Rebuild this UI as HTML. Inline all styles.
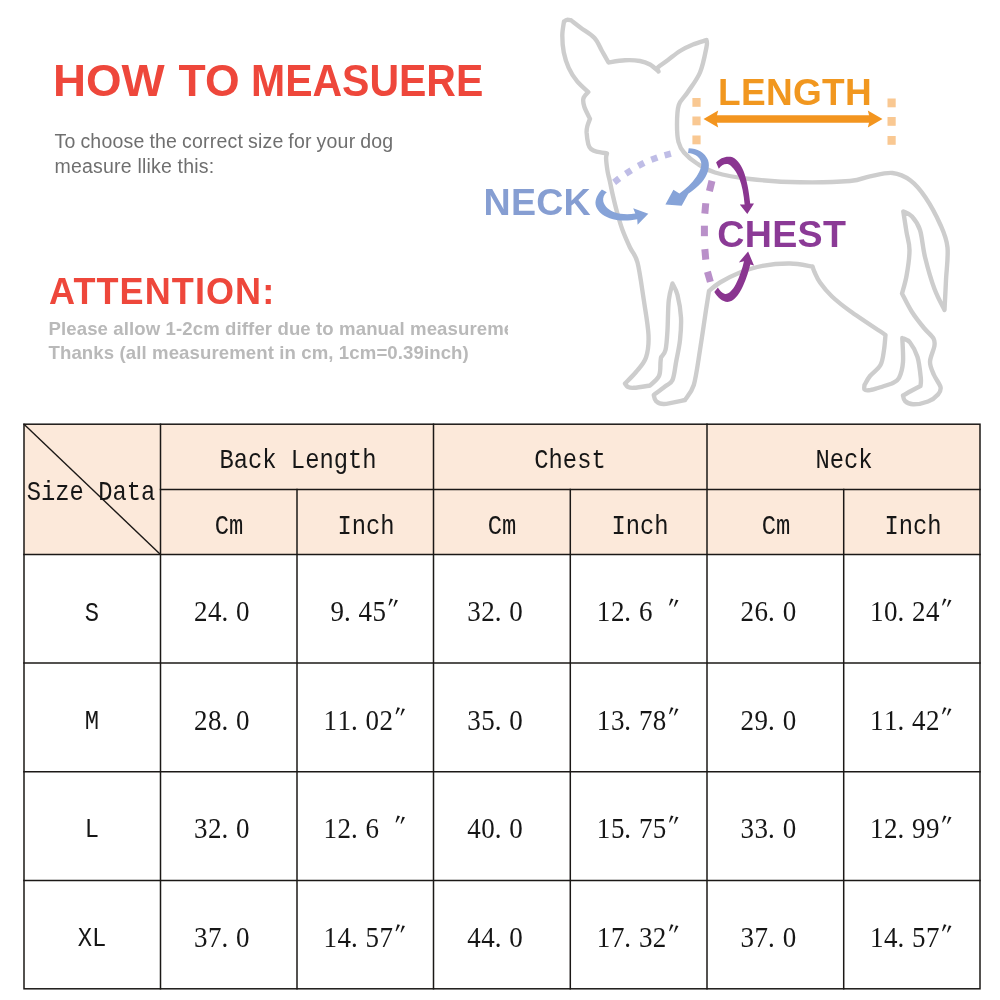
<!DOCTYPE html>
<html lang="en">
<head>
<meta charset="utf-8">
<title>How to measure - size chart</title>
<style>
html,body{margin:0;padding:0;background:#fff;}
body{width:1000px;height:1000px;position:relative;overflow:hidden;font-family:"Liberation Sans",sans-serif;}
#gfx{position:absolute;left:0;top:0;width:1000px;height:1000px;}
.t{position:absolute;white-space:nowrap;line-height:1;margin:0;}
.h1{top:58.5px;font-size:44.5px;font-weight:bold;color:#ee473b;transform-origin:0 0;}
.sub{left:54.5px;font-size:19.5px;color:#6f6f6f;letter-spacing:0.2px;}
.att{left:49px;top:274.2px;font-size:36px;font-weight:bold;color:#ee473b;letter-spacing:1.1px;}
.note{left:48.5px;font-size:18.6px;font-weight:bold;color:#b9b9b9;letter-spacing:0.1px;}
.c{position:absolute;white-space:nowrap;color:#161616;transform:translateX(-50%);}
.m{font-family:"Liberation Mono",monospace;font-size:28.5px;line-height:28.5px;transform:translateX(-50%) scaleX(0.835);}
</style>
</head>
<body>
<svg id="gfx" viewBox="0 0 1000 1000" width="1000" height="1000">
  <!--DOG-->
  <path d="M571.0,20.3 C570.3,20.2 568.2,19.6 567.0,19.8 C565.8,20.0 564.5,21.2 564.0,21.5 C563.7,23.8 562.3,30.3 562.3,35.5 C562.3,40.7 562.7,47.1 563.8,52.5 C564.9,57.9 566.5,63.0 568.7,67.8 C570.9,72.6 573.9,77.4 577.2,81.4 C580.5,85.4 586.4,90.2 588.3,92.0 C587.5,93.1 584.0,95.9 583.4,98.4 C582.8,100.9 583.3,103.6 584.4,107.0 C585.5,110.4 589.1,116.8 590.0,118.8 C589.6,120.0 588.0,123.7 587.4,126.0 C586.8,128.3 586.5,129.3 586.6,132.4 C586.8,135.5 587.6,141.5 588.3,144.3 C589.0,147.1 589.6,147.8 591.0,149.0 C592.4,150.2 593.8,150.9 596.5,151.6 C599.2,152.3 605.2,153.0 607.0,153.3 C606.9,154.2 606.0,155.5 606.1,158.5 C606.2,161.5 607.0,167.8 607.6,171.5 C608.2,175.2 608.9,176.9 609.8,181.0 C610.7,185.1 611.8,190.8 613.0,196.0 C614.2,201.2 615.4,206.3 617.0,212.0 C618.6,217.7 620.3,224.1 622.5,230.0 C624.7,235.9 627.5,242.1 630.0,247.5 C632.5,252.9 635.2,253.8 637.5,262.5 C639.8,271.2 641.9,287.9 643.8,300.0 C645.6,312.1 648.1,325.4 648.5,335.0 C648.9,344.6 648.1,351.3 646.0,357.5 C643.9,363.7 639.5,367.7 636.0,372.0 C632.5,376.3 626.8,381.6 625.0,383.5 C625.5,384.1 626.5,386.3 628.0,387.0 C629.5,387.7 630.3,388.1 634.0,387.8 C637.7,387.6 647.3,385.9 650.0,385.5 C651.5,383.9 657.2,379.9 659.0,376.0 C660.8,372.1 660.2,365.1 660.5,362.0 C660.8,358.9 660.9,358.2 661.0,357.5 C661.8,356.2 664.4,354.6 665.5,350.0 C666.6,345.4 667.0,338.3 667.5,330.0 C668.0,321.7 667.9,307.8 668.8,300.0 C669.6,292.2 671.9,286.2 672.5,283.5 C673.3,285.4 676.1,289.3 677.5,295.0 C678.9,300.7 680.6,310.0 681.0,317.5 C681.4,325.0 680.8,332.5 680.0,340.0 C679.2,347.5 677.2,355.8 676.0,362.5 C674.8,369.2 674.3,376.0 672.5,380.0 C670.7,384.0 668.1,384.0 665.0,386.5 C661.9,389.0 655.6,393.6 653.8,395.0 C654.1,396.0 654.3,399.5 656.0,401.0 C657.7,402.5 659.2,404.2 664.0,404.0 C668.8,403.8 681.5,400.7 685.0,400.0 C686.5,397.5 691.2,393.3 693.8,385.0 C696.2,376.7 698.0,362.5 700.0,350.0 C702.0,337.5 704.5,319.8 706.0,310.0 C707.5,300.2 708.5,294.2 709.0,291.0 C710.8,289.6 714.8,285.6 720.0,282.5 C725.2,279.4 732.9,275.3 740.0,272.5 C747.1,269.7 754.2,267.3 762.5,265.8 C770.8,264.3 781.7,263.4 790.0,263.5 C798.3,263.6 808.8,266.0 812.5,266.5 C812.8,267.4 813.2,269.3 814.5,272.0 C815.8,274.7 817.1,278.4 820.0,282.5 C822.9,286.6 827.0,291.8 832.0,296.5 C837.0,301.2 841.1,304.6 850.0,311.0 C858.9,317.4 879.6,331.0 885.5,335.0 C885.2,337.5 884.8,345.0 884.0,350.0 C883.2,355.0 882.8,360.7 880.5,365.0 C878.2,369.3 872.7,372.7 870.0,376.0 C867.3,379.3 865.4,383.5 864.5,385.0 C864.5,385.8 863.8,388.6 864.5,389.5 C865.2,390.4 866.8,390.6 869.0,390.3 C871.2,390.1 874.2,389.1 878.0,388.0 C881.8,386.9 889.7,384.2 892.0,383.5 C893.2,382.6 897.2,381.6 899.0,378.0 C900.8,374.4 902.5,368.7 903.0,362.0 C903.5,355.3 902.4,342.0 902.3,338.0 C903.6,338.8 907.5,339.3 910.0,342.5 C912.5,345.7 915.7,351.1 917.5,357.0 C919.3,362.9 920.3,373.2 920.8,378.0 C921.3,382.8 920.5,384.7 920.5,386.0 C918.9,386.8 913.9,389.4 911.0,391.0 C908.1,392.6 904.3,394.8 903.0,395.5 C903.3,396.4 903.3,399.5 905.0,401.0 C906.7,402.5 909.2,404.2 913.0,404.3 C916.8,404.4 923.8,403.1 928.0,401.5 C932.2,399.9 935.9,396.9 938.0,394.5 C940.1,392.1 941.2,390.2 940.5,387.0 C939.8,383.8 935.8,379.2 934.0,375.0 C932.2,370.8 930.0,366.8 930.0,362.0 C930.0,357.2 933.7,350.4 934.3,346.5 C934.9,342.6 935.2,341.6 933.5,338.5 C931.8,335.4 927.6,332.4 924.0,328.0 C920.4,323.6 915.7,317.8 912.0,312.0 C908.3,306.2 903.7,296.6 902.0,293.5 C902.8,290.6 905.2,283.2 906.5,276.0 C907.8,268.8 909.5,257.3 909.5,250.0 C909.5,242.7 907.5,238.4 906.5,232.0 C905.5,225.6 903.8,214.9 903.3,211.5 C904.8,212.3 909.2,213.4 912.0,216.5 C914.8,219.6 917.8,223.2 920.0,230.0 C922.2,236.8 922.6,247.2 925.0,257.0 C927.4,266.8 931.2,280.2 934.5,289.0 C937.8,297.8 942.8,306.5 944.5,310.0 C944.8,305.0 945.5,290.4 946.0,280.0 C946.5,269.6 948.4,256.7 947.5,247.5 C946.6,238.3 944.2,233.3 940.5,225.0 C936.8,216.7 930.5,204.9 925.5,197.5 C920.5,190.1 916.0,184.6 910.5,180.5 C905.0,176.4 899.2,173.7 892.5,173.0 C885.8,172.3 877.1,175.0 870.0,176.3 C862.9,177.6 861.7,180.0 850.0,181.0 C838.3,182.0 816.7,182.6 800.0,182.3 C783.3,182.0 764.2,180.6 750.0,179.0 C735.8,177.4 723.8,175.1 715.0,172.5 C706.2,169.9 702.2,166.8 697.0,163.5 C691.8,160.2 687.1,156.1 684.0,152.5 C680.9,148.9 679.7,146.6 678.5,142.0 C677.3,137.4 677.0,131.2 677.0,125.0 C677.0,118.8 677.0,110.4 678.8,105.0 C680.5,99.6 684.0,97.9 687.5,92.5 C691.0,87.1 696.8,80.1 700.0,72.5 C703.2,64.9 705.4,52.4 706.5,47.0 C707.6,41.6 706.5,41.2 706.5,40.0 C704.2,40.8 697.4,42.7 693.0,44.5 C688.6,46.3 684.2,48.4 680.0,51.0 C675.8,53.6 671.5,57.4 668.0,60.0 C664.5,62.6 660.5,65.4 659.0,66.5 C658.7,66.8 657.4,67.7 657.3,68.5 C657.2,69.3 658.3,71.0 658.5,71.5 C657.1,70.3 653.1,66.2 650.0,64.5 C646.9,62.8 644.2,61.7 640.0,61.0 C635.8,60.3 630.2,60.0 625.0,60.3 C619.8,60.5 611.2,62.1 608.5,62.5 C607.4,60.6 604.3,55.1 602.0,51.0 C599.7,46.9 598.0,41.8 594.5,38.0 C591.0,34.2 584.9,30.9 581.0,28.0 C577.1,25.1 572.7,21.6 571.0,20.3Z" fill="none" stroke="#cdcdcd" stroke-width="4.4" stroke-linejoin="round" stroke-linecap="round"/>
  <rect x="692.4" y="98" width="8.2" height="8.8" fill="#f9c892"/>
  <rect x="887.5" y="98.5" width="8.2" height="8.8" fill="#f9c892"/>
  <rect x="692.4" y="116.5" width="8.2" height="8.8" fill="#f9c892"/>
  <rect x="887.5" y="117.0" width="8.2" height="8.8" fill="#f9c892"/>
  <rect x="692.4" y="135.5" width="8.2" height="8.8" fill="#f9c892"/>
  <rect x="887.5" y="136.0" width="8.2" height="8.8" fill="#f9c892"/>
  <line x1="714" y1="119" x2="872" y2="119" stroke="#f3951f" stroke-width="7.5"/>
  <path d="M703.5,119 L718.2,110.5 L716,119 L718.2,127.5Z" fill="#f3951f"/>
  <path d="M882.5,119 L867.8,110.5 L870,119 L867.8,127.5Z" fill="#f3951f"/>
  <rect x="613.4" y="177.2" width="6.5" height="6.5" fill="#bfbde6" transform="rotate(-38 616.6 180.4)"/>
  <rect x="625.2" y="168.8" width="6.5" height="6.5" fill="#bfbde6" transform="rotate(-33 628.5 172.0)"/>
  <rect x="637.9" y="161.1" width="6.5" height="6.5" fill="#bfbde6" transform="rotate(-27 641.1 164.3)"/>
  <rect x="651.1" y="155.4" width="6.5" height="6.5" fill="#bfbde6" transform="rotate(-20 654.4 158.7)"/>
  <rect x="664.5" y="151.2" width="6.5" height="6.5" fill="#bfbde6" transform="rotate(-15 667.7 154.5)"/>
  <rect x="707.2" y="180.7" width="7" height="10.5" fill="#b990c9" transform="rotate(14 710.7 185.9)"/>
  <rect x="701.8" y="203.2" width="7" height="10.5" fill="#b990c9" transform="rotate(5 705.3 208.4)"/>
  <rect x="700.9" y="225.7" width="7" height="10.5" fill="#b990c9" transform="rotate(0 704.4 230.9)"/>
  <rect x="701.8" y="249.1" width="7" height="10.5" fill="#b990c9" transform="rotate(-5 705.3 254.3)"/>
  <rect x="705.4" y="271.6" width="7" height="10.5" fill="#b990c9" transform="rotate(-16 708.9 276.8)"/>
  <path d="M688.7,148.2 C697,148.3 705,152.5 708,160 C710.5,167 707.5,175.5 702,182 C697.5,187 693,190.5 688.3,193.8 L681.7,205.8 L665.4,204.4 L673.4,189.8 L679.4,193.4 C685.5,189.3 692,183.3 696.5,176.5 C700.5,170.5 702.5,165 700.5,160.5 C698.5,156 694,153.6 688,153.1Z" fill="#86a3d8"/>
  <path d="M601.9,189.5 C597.5,194 595,199.5 595.6,204.5 C596.3,210 602,215.5 609.6,218.2 C617,220.8 627,221.3 637.2,219.2 L637.6,224.7 L648.3,213.7 L633.2,208.2 L635.3,213.6 C628,215 620,214.3 615.2,212.6 C609.5,210.6 604.5,206.5 603.3,201.4 C602.6,198 604,194.5 606.8,192.3Z" fill="#86a3d8"/>
  <path d="M716.1,162.5 C719.5,158.5 725,156 730.5,156.8 C736,157.8 740.5,163.5 743.5,171 C746.8,179.5 749,191 750.2,203.6 L754,203.6 L747.3,214 L739.8,204.6 L744.6,204.6 C743.8,194.5 742,185.5 739.3,178.6 C736.8,172.4 733.2,167 729,164.5 C725,163.2 721.5,165 718.8,168.8Z" fill="#8a3590"/>
  <path d="M714.3,292.1 C717.5,297.5 722.5,302 727.5,302 C733.5,301.8 739,295 743,286 C746.5,278 749,270 750.3,264.4 L754,265.6 L748.1,251.4 L738.8,262.6 L744,261.2 C742.5,268 739.5,277 735.9,284 C732.5,290.5 728.5,294.3 725.1,293.9 C722,293.5 719.5,290 717.9,287.6Z" fill="#8a3590"/>
  <text x="718" y="104.7" letter-spacing="0.3" font-family="Liberation Sans, sans-serif" font-weight="bold" font-size="37" fill="#f1971f">LENGTH</text>
  <text x="483.6" y="215.2" letter-spacing="0.2" font-family="Liberation Sans, sans-serif" font-weight="bold" font-size="37.6" fill="#869ed2">NECK</text>
  <text x="717.3" y="246.9" letter-spacing="0.3" font-family="Liberation Sans, sans-serif" font-weight="bold" font-size="37.6" fill="#8b3a96">CHEST</text>
  <!--/DOG-->
  <!-- header fill -->
  <rect x="24" y="424" width="956" height="130.5" fill="#fce9da"/>
  <!-- table grid -->
  <g stroke="#1b1816" stroke-width="1.5" fill="none" stroke-linecap="square">
    <rect x="24" y="424.2" width="956" height="564.6"/>
    <line x1="160.5" y1="489.5" x2="980" y2="489.5"/>
    <line x1="24" y1="554.5" x2="980" y2="554.5"/>
    <line x1="24" y1="663" x2="980" y2="663"/>
    <line x1="24" y1="771.8" x2="980" y2="771.8"/>
    <line x1="24" y1="880.4" x2="980" y2="880.4"/>
    <line x1="160.5" y1="424.2" x2="160.5" y2="988.8"/>
    <line x1="297" y1="489.5" x2="297" y2="988.8"/>
    <line x1="433.5" y1="424.2" x2="433.5" y2="988.8"/>
    <line x1="570.3" y1="489.5" x2="570.3" y2="988.8"/>
    <line x1="707" y1="424.2" x2="707" y2="988.8"/>
    <line x1="843.7" y1="489.5" x2="843.7" y2="988.8"/>
    <line x1="24" y1="424.2" x2="160.5" y2="554.5" stroke-width="1.4"/>
  </g>
  <!--NUMS-->
  <g font-family="Liberation Serif, serif" font-size="30" fill="#161616" transform="scale(0.9,1)" xml:space="preserve">
    <text x="215.6 231.1 246.1 262.2" y="621.3">24.0</text>
    <text x="367.2 382.2 398.3 413.9 427.5" y="621.3" dy="0 0 0 0 -4" rotate="0 0 0 0 12">9.45″</text>
    <text x="519.1 534.6 549.6 565.7" y="621.3">32.0</text>
    <text x="663.2 678.8 693.7 709.9 725.4 739.1" y="621.3" dy="0 0 0 0 0 -4" rotate="0 0 0 0 0 12">12.6 ″</text>
    <text x="822.9 838.4 853.4 869.6" y="621.3">26.0</text>
    <text x="966.8 982.3 997.3 1013.4 1029.0 1042.6" y="621.3" dy="0 0 0 0 0 -4" rotate="0 0 0 0 0 12">10.24″</text>
    <text x="215.6 231.1 246.1 262.2" y="730.0">28.0</text>
    <text x="359.4 375.0 389.9 406.1 421.7 435.3" y="730.0" dy="0 0 0 0 0 -4" rotate="0 0 0 0 0 12">11.02″</text>
    <text x="519.1 534.6 549.6 565.7" y="730.0">35.0</text>
    <text x="663.2 678.8 693.7 709.9 725.4 739.1" y="730.0" dy="0 0 0 0 0 -4" rotate="0 0 0 0 0 12">13.78″</text>
    <text x="822.9 838.4 853.4 869.6" y="730.0">29.0</text>
    <text x="966.8 982.3 997.3 1013.4 1029.0 1042.6" y="730.0" dy="0 0 0 0 0 -4" rotate="0 0 0 0 0 12">11.42″</text>
    <text x="215.6 231.1 246.1 262.2" y="838.2">32.0</text>
    <text x="359.4 375.0 389.9 406.1 421.7 435.3" y="838.2" dy="0 0 0 0 0 -4" rotate="0 0 0 0 0 12">12.6 ″</text>
    <text x="519.1 534.6 549.6 565.7" y="838.2">40.0</text>
    <text x="663.2 678.8 693.7 709.9 725.4 739.1" y="838.2" dy="0 0 0 0 0 -4" rotate="0 0 0 0 0 12">15.75″</text>
    <text x="822.9 838.4 853.4 869.6" y="838.2">33.0</text>
    <text x="966.8 982.3 997.3 1013.4 1029.0 1042.6" y="838.2" dy="0 0 0 0 0 -4" rotate="0 0 0 0 0 12">12.99″</text>
    <text x="215.6 231.1 246.1 262.2" y="947.0">37.0</text>
    <text x="359.4 375.0 389.9 406.1 421.7 435.3" y="947.0" dy="0 0 0 0 0 -4" rotate="0 0 0 0 0 12">14.57″</text>
    <text x="519.1 534.6 549.6 565.7" y="947.0">44.0</text>
    <text x="663.2 678.8 693.7 709.9 725.4 739.1" y="947.0" dy="0 0 0 0 0 -4" rotate="0 0 0 0 0 12">17.32″</text>
    <text x="822.9 838.4 853.4 869.6" y="947.0">37.0</text>
    <text x="966.8 982.3 997.3 1013.4 1029.0 1042.6" y="947.0" dy="0 0 0 0 0 -4" rotate="0 0 0 0 0 12">14.57″</text>
  </g>
  <!--/NUMS-->
</svg>

<div class="t h1" style="left:53.2px;transform:scaleX(1.027)">HOW</div>
<div class="t h1" style="left:178.5px">TO</div>
<div class="t h1" style="left:250.7px;transform:scaleX(0.921)">MEASUERE</div>
<div class="t sub" style="top:132px;word-spacing:-0.7px">To choose the correct size for your dog</div>
<div class="t sub" style="top:157px">measure llike this:</div>
<div class="t att">ATTENTION:</div>
<div class="t note" style="top:319.6px;width:459.5px;overflow:hidden;padding-bottom:6px">Please allow 1-2cm differ due to manual measureme</div>
<div class="t note" style="top:343.6px">Thanks (all measurement in cm, 1cm=0.39inch)</div>
<!--CELLS-->
<div class="c m" style="left:91.4px;top:479.4px">Size Data</div>
<div class="c m" style="left:297.6px;top:447.0px">Back Length</div>
<div class="c m" style="left:570.2px;top:447.0px">Chest</div>
<div class="c m" style="left:843.8px;top:447.0px">Neck</div>
<div class="c m" style="left:229.2px;top:512.7px">Cm</div>
<div class="c m" style="left:366.4px;top:512.7px">Inch</div>
<div class="c m" style="left:502.4px;top:512.7px">Cm</div>
<div class="c m" style="left:639.9px;top:512.7px">Inch</div>
<div class="c m" style="left:775.9px;top:512.7px">Cm</div>
<div class="c m" style="left:913.1px;top:512.7px">Inch</div>
<div class="c m" style="left:92.2px;top:599.5px">S</div>
<div class="c m" style="left:92.2px;top:708.2px">M</div>
<div class="c m" style="left:92.2px;top:816.4px">L</div>
<div class="c m" style="left:92.2px;top:925.2px">XL</div>
<!--/CELLS-->
</body>
</html>
